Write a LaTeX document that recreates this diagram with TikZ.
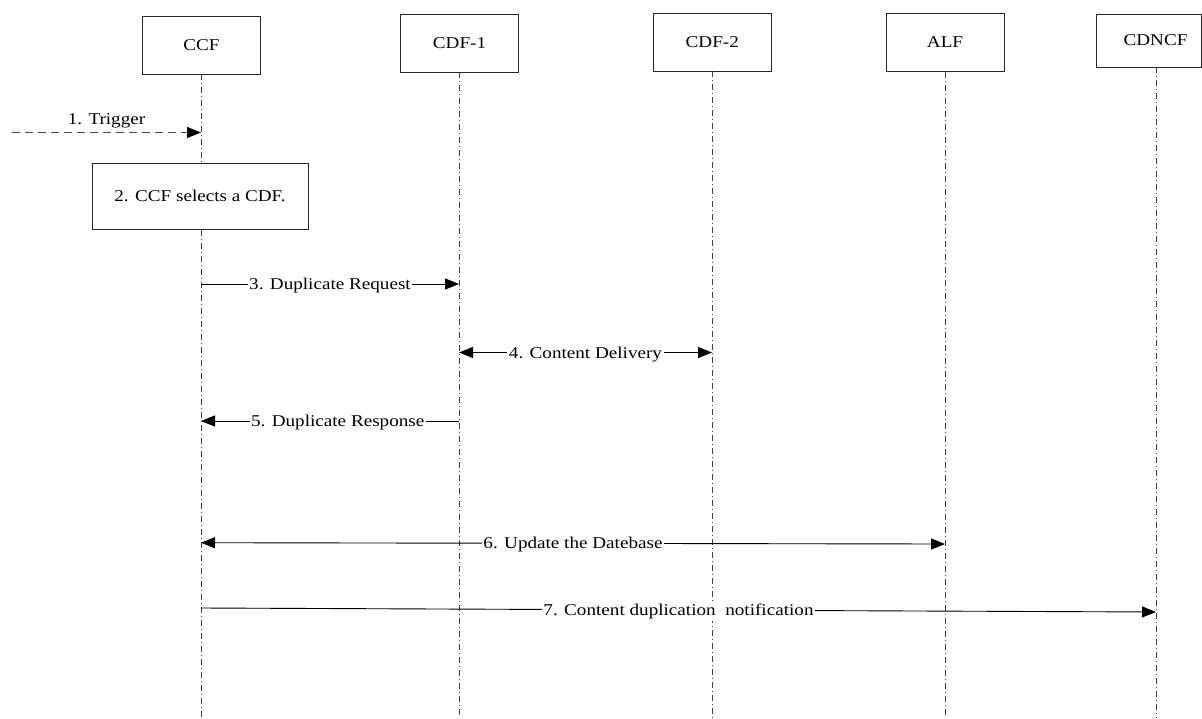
\documentclass[tikz,border=0pt]{standalone}
\usepackage{fontspec}
\setmainfont{Liberation Serif}[FakeStretch=1.16]
\usetikzlibrary{arrows.meta}
\begin{document}
\begin{tikzpicture}[x=1pt,y=-1pt,
  font=\fontsize{16.5}{19}\selectfont,
  ent/.style={draw=black!85, line width=0.9pt, fill=white, minimum width=118pt, minimum height=58pt, inner sep=0pt},
  life/.style={draw=black!75, line width=0.7pt, dash pattern=on 6pt off 3pt on 1pt off 3pt},
  msg/.style={draw=black, line width=0.9pt},
  tip/.style={-{Triangle[length=14pt,width=11pt,color=black]}},
  both/.style={{Triangle[length=14pt,width=11pt,color=black]}-{Triangle[length=14pt,width=11pt,color=black]}},
  lbl/.style={fill=white, inner sep=1.5pt, anchor=base, yshift=-5.5pt}]
\useasboundingbox (0,0) rectangle (1202,718);
% entities
\node[ent] (ccf) at (201.5,45) {CCF};
\node[ent] (cdf1) at (459.5,43) {CDF-1};
\node[ent] (cdf2) at (712.3,42) {CDF-2};
\node[ent] (alf) at (945,42.5) {ALF};
\node[ent, minimum width=105pt, minimum height=53pt] (cdncf) at (1148.5,40.5) {};
\node (cdncft) at (1155.5,40) {CDNCF};
% lifeline ends
\coordinate (ccfE) at (201,718);
\coordinate (cdf1E) at (459,718);
\coordinate (cdf2E) at (712,718);
\coordinate (alfE) at (945,718);
\coordinate (cdncfE) at (1156,718);
\draw[life] (201,74) -- (ccfE);
\draw[life] (459,72) -- (cdf1E);
\draw[life] (712,71) -- (cdf2E);
\draw[life] (945,72) -- (alfE);
\draw[life] (1156,67) -- (cdncfE);
% step 1
\coordinate (t0) at (12,132.5);
\coordinate (t1) at (201,132.5);
\draw[msg, draw=black!70, dash pattern=on 8pt off 5pt, tip] (t0) -- node[above=1pt, pos=0.5] (l1) {1. Trigger} (t1);
% step 2
\node[ent, minimum width=216pt, minimum height=66pt] (sel) at (200,196) {2. CCF selects a CDF.};
% step 3
\coordinate (a3) at (201,284);
\coordinate (b3) at (459,284);
\draw[msg, tip] (a3) -- node[lbl] (l3) {3. Duplicate Request} (b3);
% step 4
\coordinate (a4) at (459,352.5);
\coordinate (b4) at (712,352.5);
\draw[msg, both] (a4) -- node[lbl] (l4) {4. Content Delivery} (b4);
% step 5
\coordinate (a5) at (459,421);
\coordinate (b5) at (201,421);
\draw[msg, tip] (a5) -- node[lbl, pos=0.47] (l5) {5. Duplicate Response} (b5);
% step 6
\coordinate (a6) at (201,542.7);
\coordinate (b6) at (945,544);
\draw[msg, both] (a6) -- node[lbl] (l6) {6. Update the Datebase} (b6);
% step 7
\coordinate (a7) at (201,608);
\coordinate (b7) at (1156,612);
\draw[msg, tip] (a7) -- node[lbl] (l7) {7. Content duplication\ \ notification} (b7);
\end{tikzpicture}
\end{document}
